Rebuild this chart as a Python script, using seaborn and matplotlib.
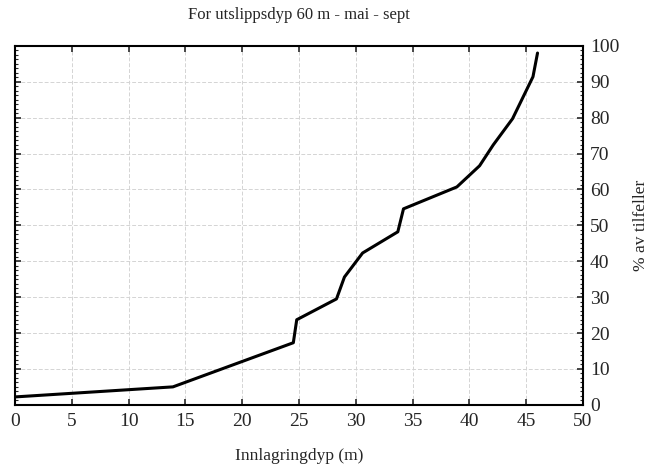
import matplotlib
matplotlib.use("Agg")
from matplotlib import pyplot as plt
from matplotlib.ticker import MultipleLocator, AutoMinorLocator
import pandas as pd
import seaborn as sns

# depth (m) vs cumulative % of cases
depth = [0.0, 13.9, 24.5, 24.8, 28.3, 29.0, 30.6, 33.7, 34.2, 38.9, 40.9, 42.1, 43.8, 45.6, 46.0]
percent = [2.2, 5.0, 17.3, 23.7, 29.5, 35.6, 42.3, 48.2, 54.6, 60.7, 66.6, 72.4, 79.7, 91.4, 98.0]

df = pd.DataFrame({"depth": depth, "percent": percent})

sns.set_style("white")
plt.rcParams['font.family'] = ['Liberation Serif', 'DejaVu Serif']

fig = plt.figure(figsize=(6.55, 4.68), dpi=100)
ax = fig.add_axes([0.023, 0.135, 0.867, 0.767])

sns.lineplot(data=df, x="depth", y="percent", ax=ax, color="black", linewidth=2.2, sort=False)

ax.set_xlim(0, 50)
ax.set_ylim(0, 100)
ax.xaxis.set_major_locator(MultipleLocator(5))
ax.yaxis.set_major_locator(MultipleLocator(10))
ax.yaxis.set_minor_locator(AutoMinorLocator(8))

ax.yaxis.tick_right()
ax.yaxis.set_label_position("right")
ax.tick_params(axis="both", which="major", direction="in", length=4, width=1.2,
               labelsize=14, top=True, left=True, right=True, bottom=True)
ax.tick_params(axis="y", which="minor", direction="in", length=2, width=0.8, left=True, right=True)
ax.tick_params(axis="x", pad=6)
ax.tick_params(axis="y", pad=5)

ax.grid(True, which="major", color="#d4d4d4", linestyle=(0, (4, 2)), linewidth=0.7)
for s in ax.spines.values():
    s.set_color("black")
    s.set_linewidth(1.5)

ax.set_xlabel("Innlagringdyp (m)", fontsize=12.5, labelpad=13)
ax.set_ylabel("% av tilfeller", fontsize=12.5, labelpad=10)
ax.set_title("For utslippsdyp 60 m - mai - sept", fontsize=12, pad=19)

fig.savefig("out.png", dpi=100)
